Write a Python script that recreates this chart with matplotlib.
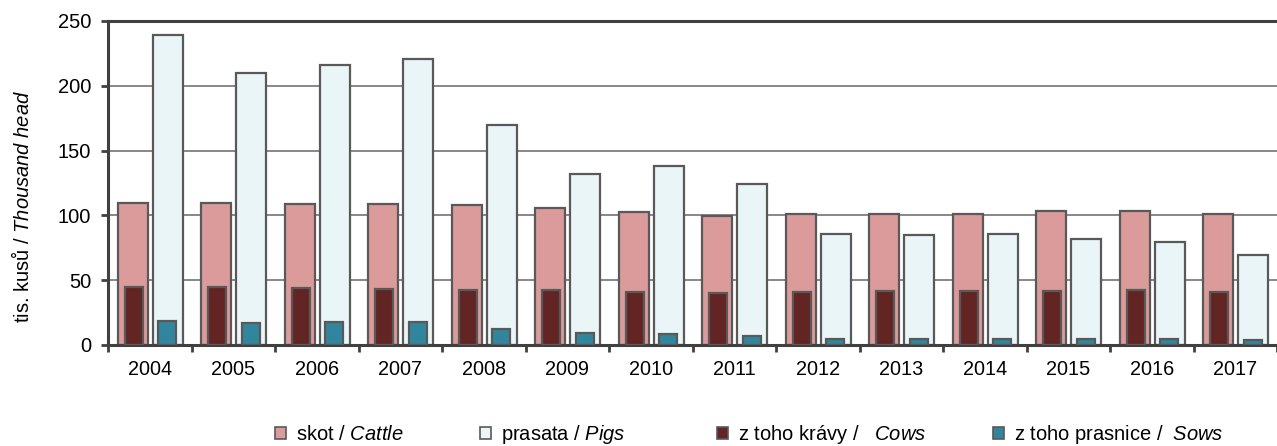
import numpy as np
import matplotlib.pyplot as plt
from matplotlib.patches import Patch

plt.rcParams['font.family'] = ['Liberation Sans', 'DejaVu Sans']
plt.rcParams['mathtext.fontset'] = 'custom'
plt.rcParams['mathtext.rm'] = 'Liberation Sans'
plt.rcParams['mathtext.it'] = 'Liberation Sans:italic'

years = ['2004', '2005', '2006', '2007', '2008', '2009', '2010',
         '2011', '2012', '2013', '2014', '2015', '2016', '2017']
cattle = [109.4, 109.7, 109.0, 109.0, 107.7, 105.9, 102.8,
          99.7, 100.7, 100.7, 101.2, 103.5, 103.5, 100.7]
pigs = [239.3, 209.9, 215.8, 220.7, 169.5, 131.6, 138.0,
        124.4, 85.8, 85.2, 85.5, 81.6, 79.1, 69.3]
cows = [44.5, 45.0, 44.3, 43.5, 42.8, 42.7, 41.2,
        40.4, 40.6, 41.3, 41.4, 42.0, 42.2, 40.7]
sows = [18.8, 16.7, 17.5, 17.5, 12.4, 9.5, 8.5,
        6.6, 4.3, 4.5, 4.5, 4.4, 4.4, 3.9]

labels = ['skot / $\\mathit{Cattle}$', 'prasata / $\\mathit{Pigs}$',
          'z toho krávy /   $\\mathit{Cows}$', 'z toho prasnice /  $\\mathit{Sows}$']
colors = ['#DA9B9A', '#EAF5F7', '#632523', '#31859C']
edge = '#595959'

x = np.arange(len(years))
W, H = 1277, 446

fig = plt.figure(figsize=(W / 100, H / 100), dpi=100)
ax = fig.add_axes([108 / W, 1 - 345 / H, 1 - 108 / W, 324 / H])

ax.bar(x - 0.205, cattle, 0.36, color=colors[0], edgecolor=edge, linewidth=1.6, zorder=2)
ax.bar(x + 0.215, pigs, 0.36, color=colors[1], edgecolor=edge, linewidth=1.6, zorder=2)
ax.bar(x - 0.19, cows, 0.215, color=colors[2], edgecolor=edge, linewidth=1.6, zorder=3)
ax.bar(x + 0.21, sows, 0.22, color=colors[3], edgecolor=edge, linewidth=1.6, zorder=3)

ax.set_ylim(0, 250)
ax.set_xlim(-0.5, 13.45)
ax.set_yticks(np.arange(0, 251, 50))
ax.yaxis.grid(True, color='#878787', linewidth=1.4, zorder=0)
ax.set_axisbelow(True)

ax.set_xticks(np.arange(-0.5, 13.6, 1.0))
ax.set_xticklabels([])
ax.set_xticks(x, minor=True)
ax.set_xticklabels(years, minor=True)
ax.tick_params(axis='x', which='major', direction='out', length=5, width=2, color='#404040')
ax.tick_params(axis='x', which='minor', length=0, pad=11, labelsize=14.3)
ax.tick_params(axis='y', direction='out', length=5, width=2, color='#404040', labelsize=14.5, pad=7)

for side in ['left', 'bottom', 'top']:
    ax.spines[side].set_color('#404040')
    ax.spines[side].set_linewidth(2.2)
ax.spines['right'].set_visible(False)

fig.text(22 / W, 1 - 207 / H, 'tis. kusů / $\\mathit{Thousand\\ head}$', rotation=90,
         ha='center', va='center', fontsize=14.5)

# legend entries, each placed at its own spot along the bottom
marker_x = [275, 480, 717, 993]
for c, lab, mx in zip(colors, labels, marker_x):
    fig.legend([Patch(facecolor=c, edgecolor=edge, linewidth=1.2)], [lab],
               loc='center left', bbox_to_anchor=(mx / W, 1 - 435 / H),
               frameon=False, fontsize=14.5, handlelength=0.55, handleheight=0.55,
               handletextpad=0.5, borderpad=0, borderaxespad=0)

fig.savefig('out.png', dpi=100)
